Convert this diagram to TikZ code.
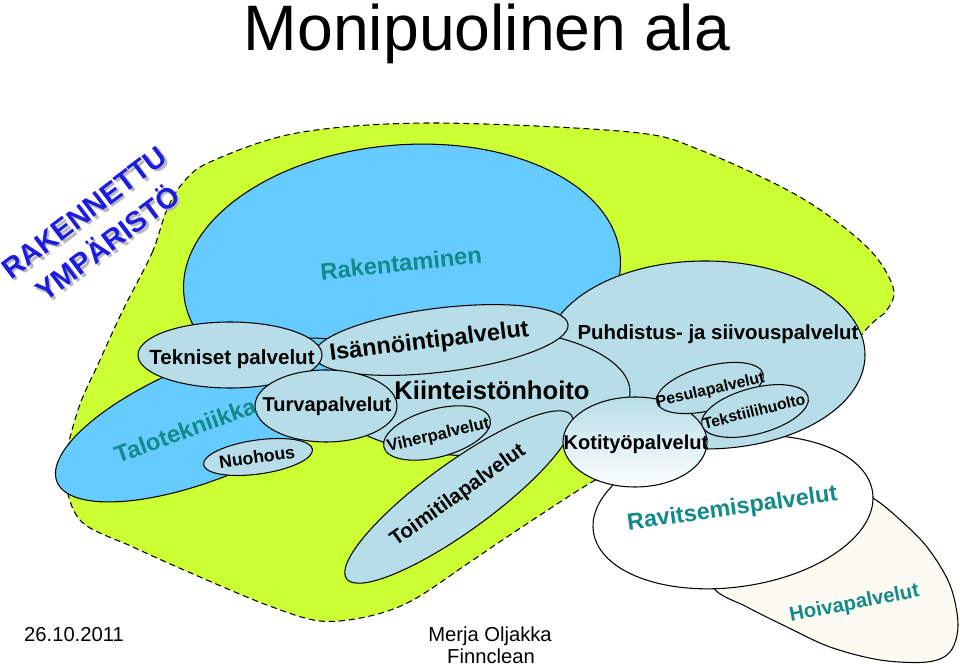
\documentclass[tikz,border=0pt]{standalone}
\usepackage{fontspec}
\setmainfont{Liberation Sans}

\definecolor{areagreen}{HTML}{CCFF33}
\definecolor{rakblue}{HTML}{66CCFF}
\definecolor{palblue}{HTML}{B7DEE8}
\definecolor{labelteal}{HTML}{138A8A}
\definecolor{ympblue}{HTML}{1C1CE0}
\definecolor{hoivafill}{HTML}{FBFBF2}

\tikzset{
  zone/.style={draw=black, line width=0.6pt, fill=palblue},
  lbl/.style={font=\bfseries\fontsize{#1}{#1}\selectfont},
  tlbl/.style={font=\bfseries\fontsize{#1}{#1}\selectfont, text=labelteal},
  foot/.style={font=\fontsize{11.5}{13}\selectfont},
  ymp/.style={font=\bfseries\fontsize{16.4}{22}\selectfont, align=center, rotate=37},
}

\begin{document}
\begin{tikzpicture}[x=0.02cm, y=-0.02cm, every node/.style={inner sep=0pt, text depth=0pt}]
\useasboundingbox (0,0) rectangle (960,668);

\filldraw[fill=areagreen, draw=black, line width=0.6pt, dash pattern=on 3.5pt off 2.2pt]
  plot[smooth cycle, tension=0.55] coordinates {(123,310) (152,253) (166,212) (182,184) (210,162) (297,133) (430,123) (630,132) (700,150) (800,197) (867,247) (893,287) (887,310) (863,333) (790,425) (700,455) (620,470) (587,485) (513,533) (470,562) (413,600) (370,616) (320,621) (267,605) (200,577) (133,547) (80,520) (65,470) (78,410) (100,360)};

\draw[zone, fill=rakblue, rotate around={5:(402,275)}] (402,275) ellipse [x radius=219, y radius=130];
\draw[zone, fill=rakblue, rotate around={22:(210,420)}] (210,420) ellipse [x radius=165, y radius=58];

\draw[zone, fill=hoivafill] plot[smooth cycle, tension=0.55] coordinates {(713,587) (747,607) (787,627) (830,647) (880,660) (927,662) (950,652) (958,625) (950,585) (927,547) (897,517) (873,498) (840,480) (770,495) (710,545)};
\draw[zone, fill=white, rotate around={8:(733,512)}] (733,512) ellipse [x radius=141, y radius=75];

\draw[zone] (705,355) ellipse [x radius=160, y radius=94];
\draw[zone] (478,392) ellipse [x radius=152, y radius=64];
\draw[zone, rotate around={7:(441,340)}] (441,340) ellipse [x radius=128, y radius=32];
\draw[zone] (230,355) ellipse [x radius=92, y radius=33];
\draw[zone] (326,406) ellipse [x radius=71, y radius=36];
\draw[zone, rotate around={8:(258,457)}] (258,457) ellipse [x radius=55, y radius=17];
\draw[zone, rotate around={36:(459,497)}] (459,497) ellipse [x radius=139, y radius=34];
\draw[zone, rotate around={15:(437,433)}] (437,433) ellipse [x radius=55, y radius=24];
\draw[draw=black, line width=0.6pt, top color=palblue, bottom color=white] (635,442) ellipse [x radius=72, y radius=45];
\draw[zone, rotate around={15:(710,388)}] (710,388) ellipse [x radius=55, y radius=22];
\draw[zone, rotate around={15:(755,411)}] (755,411) ellipse [x radius=55, y radius=23];

\node[anchor=base, font=\fontsize{36.6}{40}\selectfont] (title) at (487,51) {Monipuolinen ala};

\node[ymp, text=gray!55] (ympshadow) at (98.5,230.5) {RAKENNETTU\\YMPÄRISTÖ};
\node[ymp, text=ympblue] (ymp) at (96,228) {RAKENNETTU\\YMPÄRISTÖ};

\node[tlbl=13.5, rotate=6] (rak) at (401,263) {Rakentaminen};
\node[tlbl=13.5, rotate=20] (talo) at (185,430) {Talotekniikka};
\node[lbl=11.7] (tek) at (232,357) {Tekniset palvelut};
\node[lbl=13.4, rotate=7] (isa) at (429,340) {Isännöintipalvelut};
\node[lbl=14.6] (kiin) at (492,390) {Kiinteistönhoito};
\node[lbl=11.4] (turva) at (327,404) {Turvapalvelut};
\node[lbl=9.5, rotate=13] (viher) at (438,434) {Viherpalvelut};
\node[lbl=11.7, rotate=35.5] (toim) at (457,494) {Toimitilapalvelut};
\node[lbl=10, rotate=8] (nuo) at (257,457) {Nuohous};
\node[lbl=11.6] (puh) at (718,332) {Puhdistus- ja siivouspalvelut};
\node[lbl=9, rotate=13] (pes) at (710,389) {Pesulapalvelut};
\node[lbl=8.9, rotate=14] (teks) at (754,411) {Tekstiilihuolto};
\node[lbl=11.4] (koti) at (636,442) {Kotityöpalvelut};
\node[tlbl=13.3, rotate=8] (ravi) at (732,507) {Ravitsemispalvelut};
\node[tlbl=11.5, rotate=11] (hoiva) at (854,602) {Hoivapalvelut};

\node[foot] (pvm) at (74,634) {26.10.2011};
\node[foot] (tekija) at (490,634) {Merja Oljakka};
\node[foot] (yritys) at (491,656) {Finnclean};
\end{tikzpicture}
\end{document}
